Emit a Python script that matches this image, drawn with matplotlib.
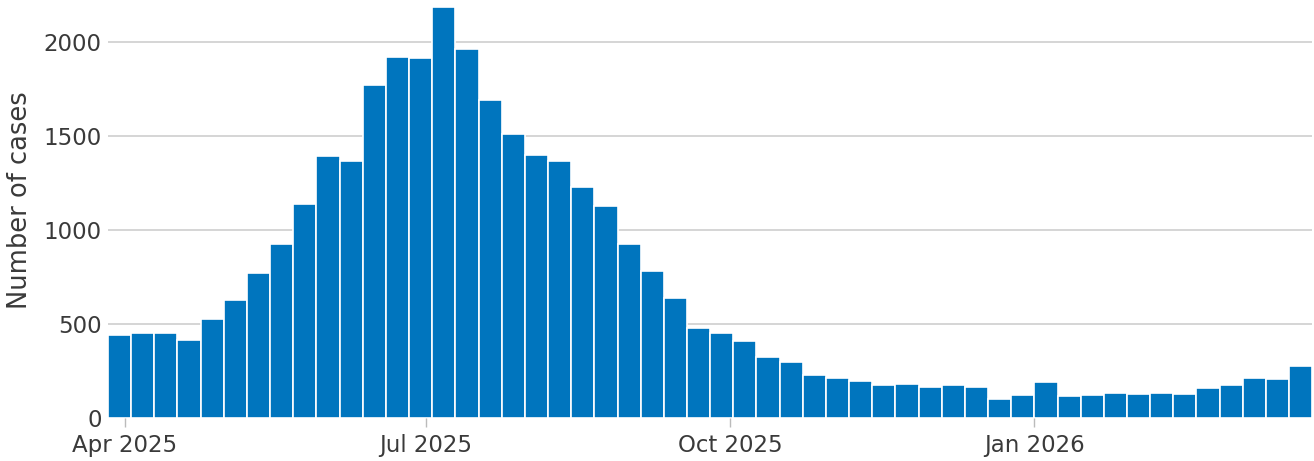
import matplotlib.pyplot as plt
import matplotlib.dates as mdates
import numpy as np
import pandas as pd

# weekly case counts, first week starting 27 Mar 2025
week_start = "2025-03-27"
cases = [443, 454, 450, 417, 525, 626, 770, 924, 1140, 1392,
         1367, 1773, 1918, 1917, 2188, 1961, 1690, 1512, 1399, 1367,
         1229, 1128, 924, 784, 637, 477, 454, 410, 324, 300,
         227, 215, 195, 174, 179, 167, 176, 167, 103, 122,
         190, 119, 122, 135, 129, 135, 129, 160, 174, 211,
         207, 277]
y_ticks = [0, 500, 1000, 1500, 2000]
x_ticks = ["2025-04-01", "2025-07-01", "2025-10-01", "2026-01-01"]

plt.rcParams['font.family'] = ['DejaVu Sans']
text_col = '#3a3a3a'

weeks = pd.date_range(week_start, periods=len(cases), freq="7D")

fig = plt.figure(figsize=(13.14, 4.61), dpi=100)
ax = fig.add_axes([0.0822, 0.0933, 0.9165, 0.8972])

ax.bar(weeks, cases, width=7, align='edge', color='#0075be',
       edgecolor='white', linewidth=1.2, zorder=3)

ax.set_xlim(weeks[0], weeks[-1] + pd.Timedelta(days=7))
ax.set_ylim(0, 2200)
ax.set_yticks(y_ticks)
ax.set_xticks(pd.to_datetime(x_ticks))
ax.xaxis.set_major_formatter(mdates.DateFormatter('%b %Y'))

ax.grid(axis='y', color='#d2d2d2', linewidth=1.3, zorder=0)
for s in ax.spines.values():
    s.set_visible(False)

ax.tick_params(axis='y', length=0, pad=4.5, labelsize=16.5, labelcolor=text_col)
ax.tick_params(axis='x', length=6.5, width=1, color='#bbbbbb', pad=5,
               labelsize=16.5, labelcolor=text_col)
ax.set_ylabel('Number of cases', fontsize=18.5, color=text_col)
ax.yaxis.set_label_coords(-0.062, 0.527)

fig.savefig('out.png', dpi=100)
